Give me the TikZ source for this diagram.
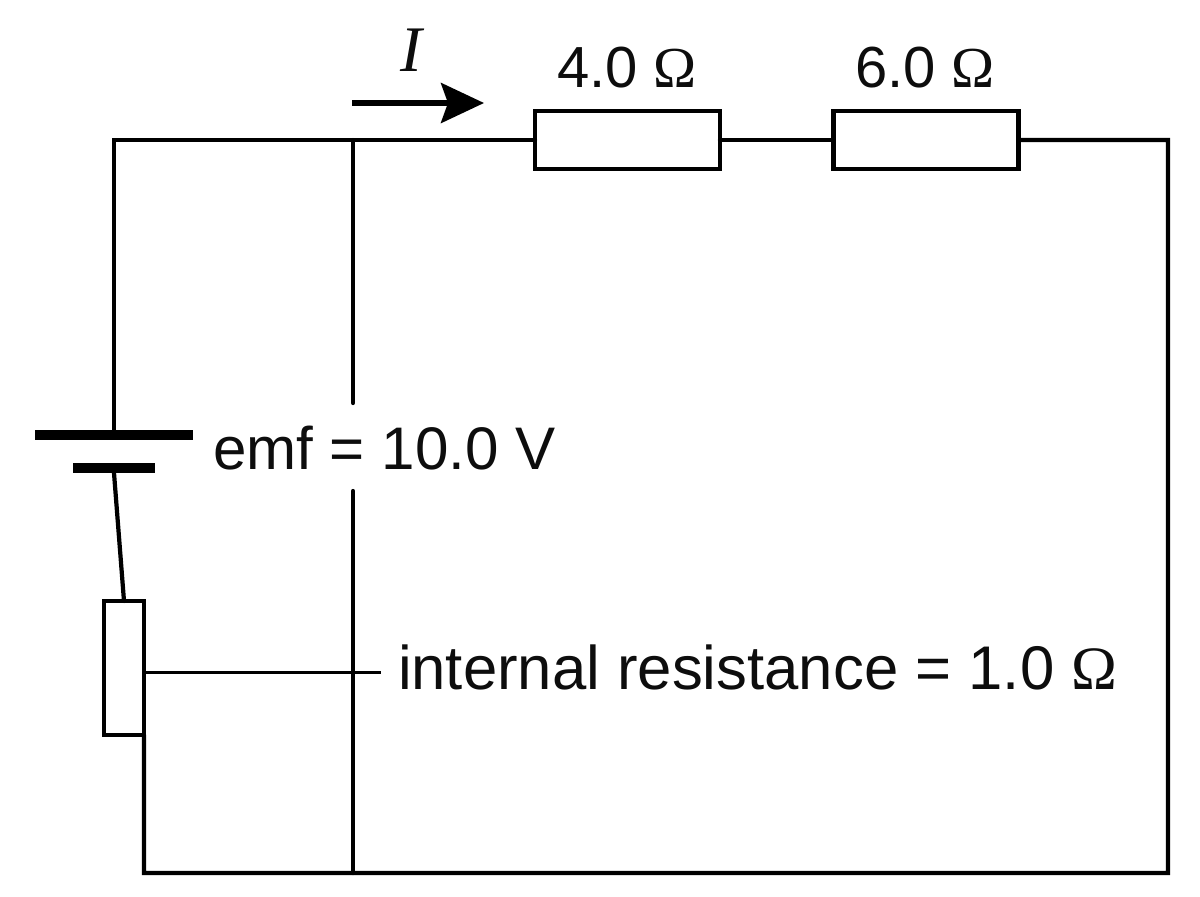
\documentclass[tikz,border=0pt]{standalone}
\usepackage{fontspec}
\setmainfont{Liberation Sans}
\newfontfamily\ohmfont{Liberation Serif}
\usetikzlibrary{arrows,arrows.meta,calc,positioning}
\newcommand{\ohm}{{\ohmfont\symbol{"03A9}}}
\tikzstyle{wire}  =[line width=2.4pt, line cap=round]
\tikzstyle{leader}=[line width=1.7pt]
\tikzstyle{resistor}=[rectangle, draw, line width=2.4pt, inner sep=0pt,
                    outer sep=0pt, fill=white]
\tikzstyle{plate}=[rectangle, fill=black, inner sep=0pt, outer sep=0pt]
\tikzstyle{lbl}  =[inner sep=0pt, outer sep=0pt, text=black!95,
                    font=\fontsize{33}{33}\selectfont]

\begin{document}
\begin{tikzpicture}[x=0.02cm,y=-0.02cm]
    \useasboundingbox (0,0) rectangle (1200,896);

    % corners and junctions
    \coordinate (tl) at (114,140);
    \coordinate (tj) at (353,140);
    \coordinate (tr) at (1168,140);
    \coordinate (br) at (1168,873);
    \coordinate (bj) at (353,873);
    \coordinate (bl) at (144,873);
    \coordinate (gapa) at (353,403);
    \coordinate (gapb) at (353,491);
    \coordinate (leadend) at (381,672);
    \coordinate (arrowa) at (352,103);
    \coordinate (arrowb) at (484,103);

    \draw (627.5,140) node (r1) [resistor,minimum width=3.7cm,minimum height=1.16cm] {};
    \draw (926,140) node (r2) [resistor,minimum width=3.7cm,minimum height=1.16cm] {};
    \draw (124,668) node (rint) [resistor,minimum width=0.8cm,minimum height=2.68cm] {};
    \draw (114,435) node (platea) [plate,minimum width=3.18cm,minimum height=0.2cm] {};
    \draw (114,468) node (plateb) [plate,minimum width=1.64cm,minimum height=0.2cm] {};

    % circuit
    \draw [wire] (platea.north) -- (tl) -- (r1.west);
    \draw [wire] (r1.east) -- (r2.west);
    \draw [wire] (r2.east) -- (tr) -- (br) -- (bl) -- (rint.south east);
    \draw [wire] (plateb.south) -- (rint.north);
    \draw [wire] (tj) -- (gapa);
    \draw [wire] (gapb) -- (bj);
    \draw [leader] (rint.east |- leadend) -- (leadend);
    \draw [line width=3pt, -{Stealth[length=0.86cm,width=0.8cm,inset=0.14cm]}] (arrowa) -- (arrowb);

    % labels
    \node (lblone) [lbl,anchor=base] at (627,87) {4.0 \ohm};
    \node (lbltwo) [lbl,anchor=base] at (925,87) {6.0 \ohm};
    \node (lbli) [lbl,anchor=base,font=\fontsize{37}{37}\selectfont] at (411,71) {\ohmfont\itshape I};
    \node (lblemf) [lbl,anchor=base west,font=\fontsize{34.2}{34.2}\selectfont] at (213,469) {emf = 10.0 V};
    \node (lblint) [lbl,anchor=base west,font=\fontsize{35.1}{35.1}\selectfont] at (398,689) {internal resistance = 1.0 \ohm};
\end{tikzpicture}
\end{document}
